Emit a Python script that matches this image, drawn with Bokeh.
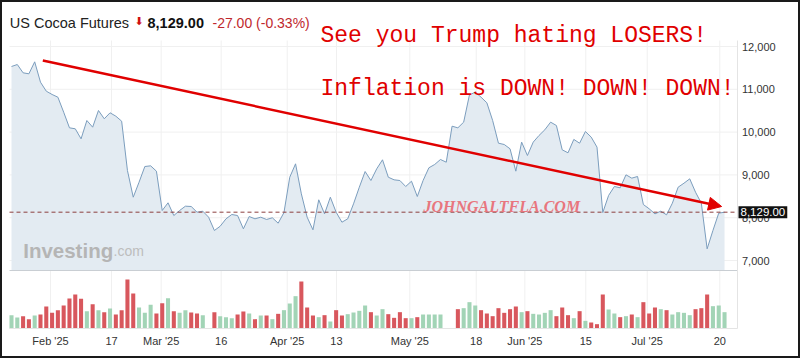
from bokeh.plotting import figure
from bokeh.models import Range1d, Label, Arrow, NormalHead, ColumnDataSource
from bokeh.core.properties import value
from bokeh.layouts import column
from bokeh.embed import file_html
from bokeh.resources import INLINE

# ---- data ----
price = [11533, 11579, 11385, 11362, 11642, 11166, 10956, 10879, 10816, 10465,
         10100, 10077, 9843, 10271, 10115, 10505, 10311, 10451, 10372, 10255,
         9103, 8479, 8829, 9196, 9212, 9087, 8168, 8348, 8051, 8168,
         8269, 8262, 8129, 8152, 8012, 7701, 7801, 7974, 8075, 8051,
         7740, 8028, 7974, 8012, 7958, 7998, 7872, 8120, 8946, 9259,
         8558, 8012, 7717, 8418, 8090, 8479, 8129, 7895, 7974, 8324,
         8713, 9079, 8869, 9142, 9353, 8946, 8885, 8869, 8729, 8853,
         8495, 8869, 9166, 9243, 9360, 9297, 10138, 10100, 10232, 10871,
         10932, 10816, 10685, 10271, 9741, 9710, 9610, 9087, 9766, 9453,
         9766, 9921, 10054, 10232, 10154, 9586, 9516, 9829, 9741, 10014,
         9883, 9649, 8120, 8519, 8729, 8698, 9002, 8924, 8963, 8308,
         8208, 8090, 8152, 8067, 8339, 8713, 8806, 8908, 8596, 8339,
         7273, 7701, 8106, 8129]

volume = [40, 33, 37, 28, 39, 42, 66, 47, 55, 69,
          90, 102, 89, 52, 73, 55, 49, 60, 42, 55,
          147, 105, 63, 47, 71, 45, 76, 91, 52, 47,
          55, 48, 45, 40, 0, 49, 37, 34, 31, 42,
          51, 45, 28, 39, 39, 28, 44, 55, 75, 97,
          141, 63, 39, 34, 40, 21, 55, 39, 43, 48,
          53, 69, 49, 39, 58, 43, 32, 49, 31, 31,
          34, 42, 42, 42, 42, 0, 0, 58, 61, 79,
          69, 55, 45, 37, 61, 47, 58, 66, 49, 52,
          44, 42, 47, 55, 37, 63, 40, 31, 52, 23,
          18, 13, 102, 57, 45, 34, 37, 42, 34, 79,
          45, 63, 58, 55, 42, 49, 47, 40, 58, 61,
          102, 67, 69, 49]

tick_labels = ["Feb '25", "17", "Mar '25", "16", "Apr '25", "13",
               "May '25", "18", "Jun '25", "15", "Jul '25", "20"]
tick_pos = [6.73, 17.25, 25.82, 36.17, 47.56, 56.06,
            68.71, 80.16, 88.55, 99.07, 109.66, 122.18]
price_ticks = [7000, 8000, 9000, 10000, 11000, 12000]

last_close = 8129.00
change = -27.00
change_pct = -0.33

arrow_x = [5.4, 122.5]
arrow_y = [11673, 8262]

# ---- layout geometry (page pixels -> data units) ----
STEP = 5.797          # px per trading day
X0 = 11               # page x of first session
PPK = 42.8            # px per 1000 price units
Y12 = 46              # page y of 12,000


def dx(px):
    return (px - X0) / STEP


def dy(py):
    return 12000 - (py - Y12) / PPK * 1000


def vy(py):
    return (328 - py) * 3


L, R = dx(9), dx(737)
TOP, BASE, VOL0 = dy(40), dy(270), dy(328)

idx = list(range(len(price)))
up = [True] + [price[i] >= price[i - 1] for i in range(1, len(price))]
GREEN, RED = "#a2d4b6", "#d8575d"
src = ColumnDataSource(dict(x=idx, price=price, vol=volume,
                            color=[GREEN if u else RED for u in up]))

W, H = 796, 354
p = figure(width=W, height=H, output_backend="svg", toolbar_location=None,
           x_range=Range1d(dx(2), dx(798)), y_range=Range1d(dy(356), dy(2)),
           min_border=0, x_axis_location=None, y_axis_location=None,
           background_fill_color="white", border_fill_color="white",
           outline_line_color=None)
p.xgrid.visible = False
p.ygrid.visible = False
p.extra_y_ranges = {"vol": Range1d(vy(356), vy(2))}

# grid lines
p.segment(x0=L, x1=R, y0=price_ticks, y1=price_ticks, line_color="#f0f0f0", line_width=1)
p.segment(x0=tick_pos, x1=tick_pos, y0=VOL0, y1=TOP, line_color="#f0f0f0", line_width=1)

# price area + line
p.varea(x="x", y1=BASE, y2="price", source=src, fill_color="#e3ebf2")
p.line(x="x", y="price", source=src, line_color="#7b9dbd", line_width=1)

# volume
p.vbar(x="x", top="vol", width=0.7, bottom=0, source=src, y_range_name="vol",
       fill_color="color", line_color=None)

# pane separator and axis lines
p.segment(x0=[L], x1=[R], y0=[BASE], y1=[BASE], line_color="#c9ced3", line_width=1)
p.segment(x0=[L], x1=[R], y0=[VOL0], y1=[VOL0], line_color="#e4e4e4", line_width=1)
p.segment(x0=[R], x1=[R], y0=[VOL0], y1=[TOP], line_color="#e4e4e4", line_width=1)

# axis labels
p.text(x=dx(741.5), y=price_ticks, text=[f"{t:,}" for t in price_ticks],
       text_font=value("Liberation Sans"), text_font_size="11px", text_color="#333333",
       text_baseline="middle", text_align="left")
p.text(x=tick_pos, y=dy(340.5), text=tick_labels,
       text_font=value("Liberation Sans"), text_font_size="11px", text_color="#333333",
       text_baseline="middle", text_align="center")

# last price dashed line
p.segment(x0=[L], x1=[R], y0=[last_close], y1=[last_close], line_color="#8c3d3d",
          line_dash="4 3", line_width=1)


def lab(px, py, text, **kw):
    p.add_layout(Label(x=px - 2, y=356 - py, x_units="screen", y_units="screen",
                       text=text, text_baseline="alphabetic", **kw))


# watermarks
lab(22.7, 250, "Investing", text_font="Liberation Sans", text_font_style="bold",
    text_font_size="20.5px", text_color="#b5b5b5")
lab(113, 250, ".com", text_font="Liberation Sans", text_font_size="14px", text_color="#bdbdbd")
lab(423, 205.7, "JOHNGALTFLA.COM", text_font="Liberation Serif", text_font_style="bold italic",
    text_font_size="16px", text_color="#e8767e")

# red arrow annotation
p.add_layout(Arrow(end=NormalHead(size=13, fill_color="#e00000", line_color="#e00000"),
                   x_start=arrow_x[0], y_start=arrow_y[0], x_end=arrow_x[1], y_end=arrow_y[1],
                   line_color="#e00000", line_width=2.5))

# price tag
p.add_layout(Label(x=736, y=last_close, x_units="screen", y_units="data",
                   text=f"{last_close:,.2f}", text_font="Liberation Sans",
                   text_font_size="11.5px", text_color="white", text_baseline="middle",
                   background_fill_color="#111111", padding=2))

# header
lab(9.3, 22, "US Cocoa Futures", text_font="Liberation Sans", text_font_size="14.5px",
    text_color="#222222")
lab(134, 21, "\u2b07", text_font="DejaVu Sans", text_font_size="11px", text_color="#d01010")
lab(147, 22, f"{last_close:,.2f}", text_font="Liberation Sans", text_font_style="bold",
    text_font_size="14.5px", text_color="#111111")
lab(212, 22, f"{change:.2f} ({change_pct:.2f}%)", text_font="Liberation Sans",
    text_font_size="14px", text_color="#c0282d")

# red commentary
lab(320, 35, "See you Trump hating LOSERS!", text_font="Liberation Mono",
    text_font_size="23px", text_color="#e00000")
lab(320, 88.3, "Inflation is DOWN! DOWN! DOWN!", text_font="Liberation Mono",
    text_font_size="23px", text_color="#e00000")

layout = column(p, styles={"border": "2px solid #1a1a1a"})
open("out.html", "w").write(file_html(layout, INLINE))
